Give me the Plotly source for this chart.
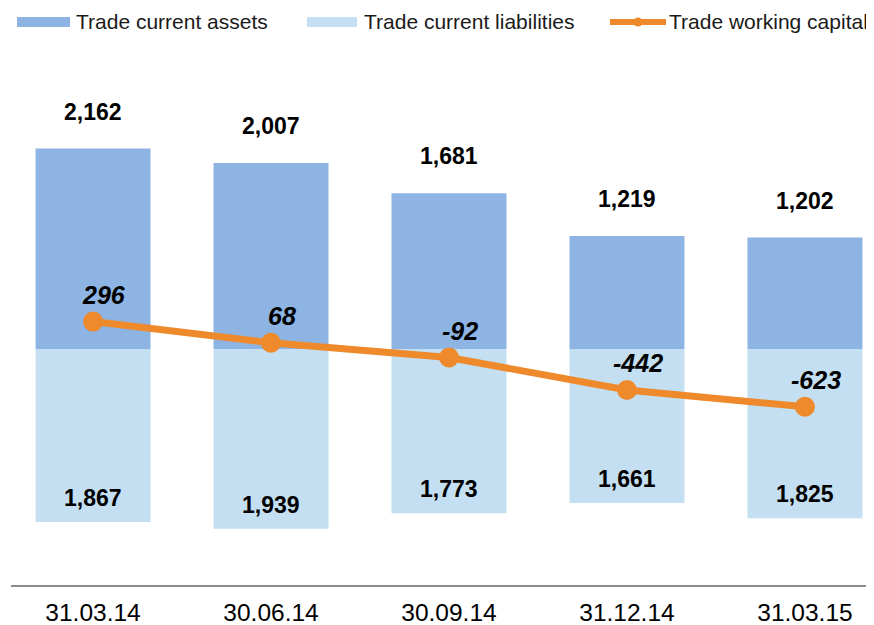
import plotly.graph_objects as go

# ---- data ----
categories = ["31.03.14", "30.06.14", "30.09.14", "31.12.14", "31.03.15"]
assets = [2162, 2007, 1681, 1219, 1202]
liabilities = [1867, 1939, 1773, 1661, 1825]
working_capital = [296, 68, -92, -442, -623]
series_names = ["Trade current assets", "Trade current liabilities", "Trade working capital"]

# ---- style ----
C_ASSETS = "#8DB4E3"
C_LIAB = "#C3DFF1"
C_WC = "#EF8A2C"
FONT = "Liberation Sans, Arial, sans-serif"
OFF = 8  # page body margin
W, H = 874 - OFF, 625 - OFF
ML, MR, MT, MB = 3, 0, 52, 40


def px_x(p):
    # p: pixel in window coordinates
    return (p - OFF - ML) / (W - ML - MR)


def px_y(p):
    return (H - MB - (p - OFF)) / (H - MT - MB)


fig = go.Figure()
fig.add_bar(x=categories, y=assets, name=series_names[0], marker=dict(color=C_ASSETS, line=dict(width=0)),
            width=0.646)
fig.add_bar(x=categories, y=[-v for v in liabilities], name=series_names[1],
            marker=dict(color=C_LIAB, line=dict(width=0)), width=0.646)
fig.add_scatter(x=categories, y=working_capital, name=series_names[2], mode="lines+markers",
                line=dict(color=C_WC, width=7), marker=dict(size=20, color=C_WC))

annotations = []
for c, v in zip(categories, assets):
    annotations.append(dict(x=c, y=v, text=f"<b>{v:,}</b>", showarrow=False, yanchor="middle",
                            yshift=37, font=dict(family=FONT, size=23, color="#000000")))
for c, v in zip(categories, liabilities):
    annotations.append(dict(x=c, y=-v, text=f"<b>{v:,}</b>", showarrow=False, yanchor="middle",
                            yshift=24, font=dict(family=FONT, size=23, color="#000000")))
for c, v in zip(categories, working_capital):
    annotations.append(dict(x=c, y=v, text=f"<b><i>{v:,}</i></b>", showarrow=False, yanchor="middle",
                            xshift=11, yshift=27, font=dict(family=FONT, size=25, color="#000000")))

# ---- manual legend ----
shapes = []
legend_items = [
    (series_names[0], "bar", C_ASSETS, 17, 70, 74),
    (series_names[1], "bar", C_LIAB, 307, 357, 362),
    (series_names[2], "line", C_WC, 610, 666, 667),
]
LY = 22
for name, kind, col, x0, x1, tx in legend_items:
    if kind == "bar":
        shapes.append(dict(type="rect", xref="paper", yref="paper", x0=px_x(x0), x1=px_x(x1),
                           y0=px_y(LY + 5), y1=px_y(LY - 5), fillcolor=col, line=dict(width=0)))
    else:
        shapes.append(dict(type="line", xref="paper", yref="paper", x0=px_x(x0), x1=px_x(x1),
                           y0=px_y(LY), y1=px_y(LY), line=dict(color=col, width=6)))
        xm = (x0 + x1) / 2
        shapes.append(dict(type="circle", xref="paper", yref="paper", x0=px_x(xm - 4.5), x1=px_x(xm + 4.5),
                           y0=px_y(LY + 4.5), y1=px_y(LY - 4.5), fillcolor=col, line=dict(width=0)))
    annotations.append(dict(xref="paper", yref="paper", x=px_x(tx), y=px_y(LY), xanchor="left",
                            yanchor="middle", text=name, showarrow=False,
                            font=dict(family=FONT, size=21, color="#1a1a1a")))

fig.update_layout(
    width=W, height=H,
    margin=dict(l=ML, r=MR, t=MT, b=MB),
    barmode="relative",
    showlegend=False,
    plot_bgcolor="white",
    paper_bgcolor="white",
    font=dict(family=FONT, size=23, color="#000000"),
    xaxis=dict(range=[-0.461, 4.388], showline=True, linecolor="#8C8C8C", linewidth=2,
               ticks="", showgrid=False, zeroline=False, ticklabelstandoff=5,
               tickfont=dict(family=FONT, size=24.5, color="#000000")),
    yaxis=dict(range=[-2546, 3118], visible=False, showgrid=False, zeroline=False),
    annotations=annotations,
    shapes=shapes,
)

fig.write_html("out.html")
